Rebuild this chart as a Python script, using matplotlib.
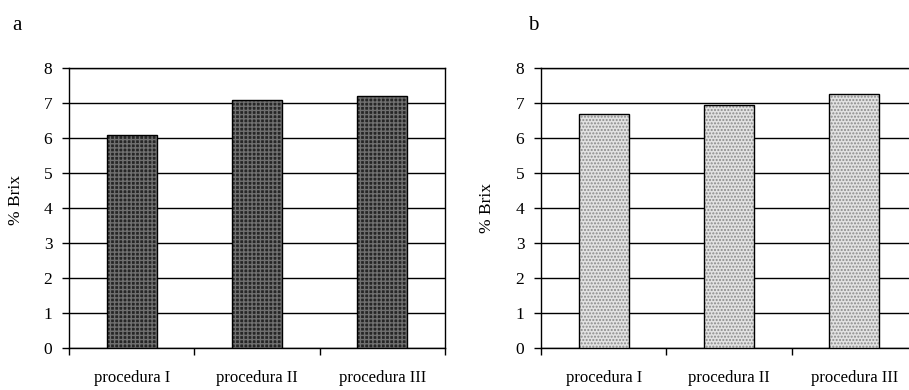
import matplotlib
matplotlib.use("Agg")
import matplotlib.pyplot as plt

plt.rcParams['font.family'] = ['Liberation Serif', 'DejaVu Serif']
plt.rcParams['hatch.linewidth'] = 1.0

categories = ["procedura I", "procedura II", "procedura III"]
brix_a = [6.1, 7.1, 7.2]
brix_b = [6.7, 6.95, 7.25]
yticks = [0, 1, 2, 3, 4, 5, 6, 7, 8]

fig = plt.figure(figsize=(9.09, 3.9), dpi=100)

# positions in figure fractions
ax_a = fig.add_axes([0.0759, 0.1077, 0.4136, 0.7179])
ax_b = fig.add_axes([0.5952, 0.1077, 0.4136, 0.7179])


def draw_panel(ax, values, face, hatch, hatch_col):
    x = list(range(len(categories)))
    # hatched fill first, then black outline on top
    ax.bar(x, values, width=0.4, color=face, hatch=hatch,
           edgecolor=hatch_col, linewidth=0, zorder=3)
    ax.bar(x, values, width=0.4, fill=False, edgecolor='black',
           linewidth=1.0, zorder=4)
    ax.set_xlim(-0.5, 2.5)
    ax.set_ylim(0, 8)
    ax.set_yticks(yticks)
    ax.tick_params(axis='y', direction='out', length=5, width=1,
                   labelsize=12.5, pad=7)
    # ticks between categories, labels under the bars
    ax.set_xticks([-0.5, 0.5, 1.5, 2.5])
    ax.set_xticklabels([])
    ax.set_xticks(x, minor=True)
    ax.set_xticklabels(categories, minor=True)
    ax.tick_params(axis='x', which='major', direction='out', length=5, width=1)
    ax.tick_params(axis='x', which='minor', length=0, labelsize=12, pad=16)
    ax.grid(axis='y', color='black', linewidth=1.0, zorder=0)
    ax.set_axisbelow(True)
    for s in ax.spines.values():
        s.set_color('black')
        s.set_linewidth(1.0)


draw_panel(ax_a, brix_a, '#262626', '++++', '#707070')
draw_panel(ax_b, brix_b, '#e2e2e2', '.....', '#8a8a8a')

fig.text(16 / 909, 1 - 200 / 390, "% Brix", rotation=90, fontsize=12.5,
         ha='center', va='center')
fig.text(487 / 909, 1 - 208 / 390, "% Brix", rotation=90, fontsize=12.5,
         ha='center', va='center')
fig.text(17 / 909, 1 - 25 / 390, "a", fontsize=15, ha='center', va='center')
fig.text(533 / 909, 1 - 25 / 390, "b", fontsize=15, ha='center', va='center')

fig.savefig("out.png", dpi=100)
